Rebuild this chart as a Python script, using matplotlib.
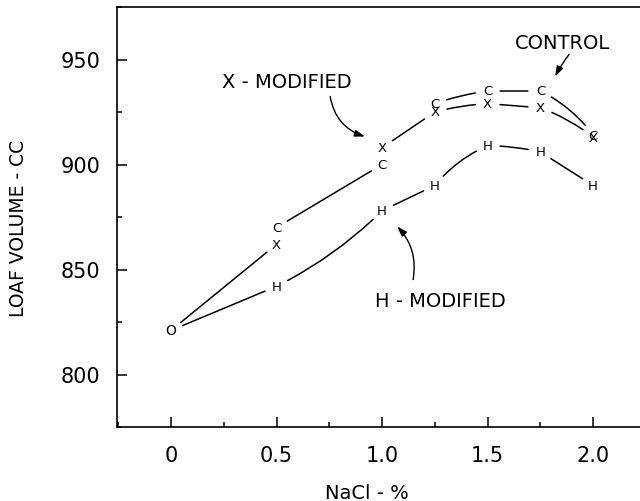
import matplotlib
matplotlib.use("Agg")
import matplotlib.pyplot as plt
from matplotlib.ticker import MultipleLocator

# NaCl levels (%) and loaf volumes (cc)
nacl = [0, 0.5, 1.0, 1.25, 1.5, 1.75, 2.0]
control = [821, 870, 900, 929, 935, 935, 914]
x_mod = [821, 862, 908, 925, 929, 927, 913]
h_mod = [821, 842, 878, 890, 909, 906, 890]

xtick_vals = [0, 0.5, 1.0, 1.5, 2.0]
xtick_labels = ["0", "0.5", "1.0", "1.5", "2.0"]
ytick_vals = [800, 850, 900, 950]

# which neighbouring points are joined by a drawn curve in the original
control_links = [(1, 2), (3, 4), (4, 5), (5, 6)]
x_links = [(0, 1), (2, 3), (3, 4), (4, 5), (5, 6)]
h_links = [(0, 1), (1, 2), (2, 3), (3, 4), (4, 5), (5, 6)]

plt.rcParams['font.family'] = ['DejaVu Sans']

fig = plt.figure(figsize=(6.4, 5.02), dpi=100)
ax = fig.add_axes([117 / 640, 1 - 428 / 502, 1 - 117 / 640, 420 / 502])
ax.set_xlim(-0.256, 2.222)
ax.set_ylim(775, 975)

for side in ['left', 'bottom', 'top']:
    ax.spines[side].set_linewidth(1.2)
ax.spines['right'].set_visible(False)

ax.set_xticks(xtick_vals)
ax.set_xticklabels(xtick_labels)
ax.set_yticks(ytick_vals)
ax.xaxis.set_minor_locator(MultipleLocator(0.25))
ax.yaxis.set_minor_locator(MultipleLocator(25))
ax.tick_params(which='both', direction='in', top=False, right=False, width=1.1)
ax.tick_params(which='major', length=7)
ax.tick_params(which='minor', length=3.5)
ax.tick_params(axis='y', which='major', labelsize=15, pad=12)
ax.tick_params(axis='x', which='major', labelsize=15, pad=13)

ax.set_xlabel("NaCl - %", fontsize=14, va='center')
ax.xaxis.set_label_coords(0.478, -0.155)
ax.set_ylabel("LOAF VOLUME - CC", fontsize=13.5, va='center')
ax.yaxis.set_label_coords(-0.189, 0.476)


def link(ys, pairs, rads):
    for (i, j), rad in zip(pairs, rads):
        ax.annotate('', xy=(nacl[j], ys[j]), xytext=(nacl[i], ys[i]),
                    arrowprops=dict(arrowstyle='-', color='black', lw=1.1,
                                    shrinkA=9, shrinkB=9,
                                    connectionstyle=f'arc3,rad={rad}'))


link(control, control_links, [0.0, -0.05, 0.0, -0.12])
link(x_mod, x_links, [0.0, 0.0, -0.05, 0.0, -0.08])
link(h_mod, h_links, [0.0, 0.08, 0.0, -0.12, -0.05, 0.0])

# letter symbols
ax.text(nacl[0], control[0], "O", fontsize=10, ha='center', va='center')
for xv, c, xm, h in zip(nacl[1:], control[1:], x_mod[1:], h_mod[1:]):
    ax.text(xv, c, "C", fontsize=9.5, ha='center', va='center')
    ax.text(xv, xm, "X", fontsize=9.5, ha='center', va='center')
    ax.text(xv, h, "H", fontsize=9.5, ha='center', va='center')

arrow_style = '-|>,head_length=0.6,head_width=0.2'

# labels with arrows
ax.text(0.55, 939.5, "X - MODIFIED", fontsize=14, ha='center', va='center')
ax.annotate('', xy=(0.919, 913.3), xytext=(0.754, 932.4),
            arrowprops=dict(arrowstyle=arrow_style, color='black', lw=1.0,
                            shrinkA=0, shrinkB=0,
                            connectionstyle='arc3,rad=0.3'))

ax.text(1.853, 958.1, "CONTROL", fontsize=14, ha='center', va='center')
ax.annotate('', xy=(1.820, 941.9), xytext=(1.886, 952.4),
            arrowprops=dict(arrowstyle=arrow_style, color='black', lw=1.0,
                            shrinkA=0, shrinkB=0,
                            connectionstyle='arc3,rad=0.05'))

ax.text(1.275, 835.2, "H - MODIFIED", fontsize=14, ha='center', va='center')
ax.annotate('', xy=(1.071, 870.5), xytext=(1.147, 845.2),
            arrowprops=dict(arrowstyle=arrow_style, color='black', lw=1.0,
                            shrinkA=0, shrinkB=0,
                            connectionstyle='arc3,rad=0.25'))

fig.savefig("out.png", dpi=100)
